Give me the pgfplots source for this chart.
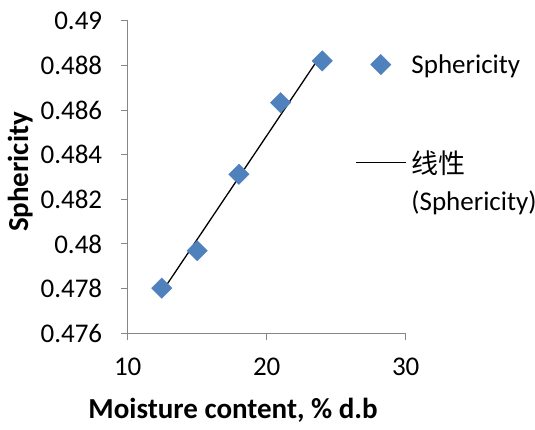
\documentclass[border=0pt]{standalone}
\usepackage{pgfplots}
\pgfplotsset{compat=1.18}
\usepackage{fontspec}
\setmainfont{Carlito}
\newfontfamily\cjk{Noto Sans CJK SC}
\definecolor{excelblue}{HTML}{4F81BD}
\definecolor{axgray}{HTML}{868686}
\begin{document}
\begin{tikzpicture}
\path[use as bounding box] (-127.7bp,-96.7bp) rectangle (407.3bp,333.3bp);
\begin{axis}[
  at={(0,0)}, anchor=south west,
  scale only axis, width=278bp, height=312.6bp,
  xmin=10, xmax=30, ymin=0.476, ymax=0.49,
  xtick={10,20,30},
  ytick={0.476,0.478,0.48,0.482,0.484,0.486,0.488,0.49},
  axis x line*=bottom, axis y line*=left,
  axis line style={draw=axgray, line width=1bp},
  tick style={draw=axgray, line width=1bp},
  tick align=outside, major tick length=7bp,
  /pgf/number format/assume math mode=true,
  tick label style={font=\fontsize{27bp}{32bp}\selectfont},
  yticklabel style={/pgf/number format/.cd, fixed, precision=3, /tikz/.cd, xshift=-15bp},
  xticklabel style={/pgf/number format/.cd, fixed, precision=0, /tikz/.cd, yshift=-14bp},
  scaled y ticks=false,
  label style={font=\fontsize{29bp}{34bp}\selectfont\bfseries},
  xlabel={Moisture content, \% d.b},
  ylabel={Sphericity},
  xlabel style={at={(axis description cs:0.379,0)}, anchor=center, yshift=-77bp},
  ylabel style={at={(axis description cs:-0.387,0.516)}, anchor=center},
  legend style={at={(0.8176,0.899)}, anchor=north west, draw=none, fill=none,
    inner sep=0pt, row sep=71.6bp, column sep=3bp,
    font=\fontsize{27bp}{37bp}\selectfont,
    cells={anchor=west, align=left}},
  legend cell align=left,
  legend image code/.code={\draw[mark repeat=2,mark phase=2,#1] plot coordinates {(0bp,0bp) (25bp,0bp) (50bp,0bp)};},
]
\addplot[only marks, mark=square*, mark size=7.2bp, draw=none,
  mark options={fill=excelblue, draw=excelblue, rotate=45}]
  coordinates {(12.45,0.47802) (15,0.4797) (18,0.48312) (21,0.48633) (24,0.48820)};
\addlegendentry{Sphericity}
\addplot[black, line width=1.3bp, mark=none]
  coordinates {(12.45,0.47784) (24,0.48856)};
\addlegendentry{\raisebox{0pt}[0.85em][0pt]{\vtop{\hbox{\cjk 线性}\hbox{(Sphericity)}}}}
\end{axis}
\end{tikzpicture}
\end{document}
